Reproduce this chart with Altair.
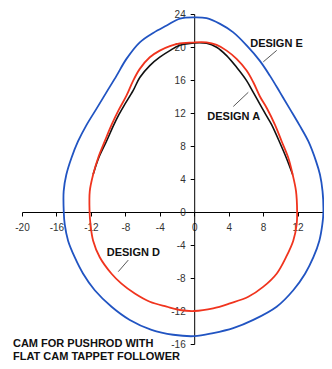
import altair as alt
import pandas as pd

# ---- data ----
x_ticks = [-20, -16, -12, -8, -4, 0, 4, 8, 12]
y_ticks = [-16, -12, -8, -4, 0, 4, 8, 12, 16, 20, 24]
x_domain = [-20, 15.07]   # right end of the axis is cut by the picture edge
y_domain = [-16, 24]

# Design E (outer, blue)
blue_x = [0, 1.43, 3.0, 4.5, 6.08, 7.6, 8.8, 9.96, 11.1, 12.2, 13.26, 14.15, 14.6, 14.9, 15.0,
          14.88, 14.53, 13.84, 12.87, 11.5, 9.57, 6.86, 4.53, 2.2, 0, -2.44, -4.96, -7.48, -9.6,
          -11.55, -12.9, -13.88, -14.65, -15.04, -15.15, -15.16, -14.85, -14.26, -13.5, -12.5,
          -11.36, -10.2, -9.03, -7.87, -6.32, -4.77, -3.2, -1.66, 0]
blue_y = [23.6, 23.5, 22.8, 21.8, 20.2, 18.35, 16.5, 14.5, 12.5, 10.56, 8.55, 6.14, 4.54, 2.53, 0,
          -1.48, -3.48, -5.48, -7.48, -9.48, -11.48, -13.08, -14.08, -14.68, -15.05, -14.88, -14.28,
          -13.08, -11.48, -9.48, -7.48, -5.48, -3.48, -1.48, 0, 2.53, 4.54, 6.55, 8.55, 10.56,
          12.5, 14.5, 16.5, 18.56, 20.57, 21.7, 22.6, 23.45, 23.6]

# Design D (red)
red_x = [0, 1.43, 2.6, 3.76, 4.92, 6.08, 6.86, 7.63, 8.45, 9.38, 10.16, 10.93, 11.43, 11.82, 11.95,
         11.9, 11.5, 10.66, 9.57, 8.0, 6.28, 4.15, 2.2, 0, -1.67, -3.2, -5.15, -6.9, -8.45, -9.6,
         -10.97, -11.74, -12.05, -12.15, -12.13, -11.74, -11.16, -10.4, -9.6, -8.75, -7.87, -7.1,
         -6.32, -5.16, -4.0, -2.83, -1.67, 0]
red_y = [20.57, 20.57, 20.25, 19.56, 18.56, 17.15, 15.73, 14.0, 12.55, 10.56, 8.55, 6.55, 4.54, 2.53, 0,
         -1.48, -3.48, -5.48, -7.48, -9.08, -10.28, -11.08, -11.68, -12.0, -11.88, -11.48, -10.88,
         -9.88, -8.68, -7.48, -5.48, -3.48, -1.48, 0, 2.53, 4.54, 6.55, 8.55, 10.56, 12.4, 14.1,
         15.9, 17.35, 18.76, 19.56, 20.1, 20.45, 20.57]

# Design A (black, visible where it departs from Design D)
black_x = [-11.74, -11.1, -10.2, -9.34, -8.75, -8.15, -7.1, -6.32, -5.16, -4.0, -2.83, -1.67, 0,
           1.43, 2.6, 3.76, 4.92, 6.08, 6.86, 7.9, 8.6, 9.0, 9.88, 10.7, 11.43]
black_y = [4.54, 6.55, 8.55, 10.56, 11.8, 12.9, 14.7, 16.3, 17.75, 18.76, 19.56, 20.2, 20.5,
           20.45, 19.97, 18.96, 17.55, 15.93, 14.5, 12.55, 11.3, 10.56, 8.55, 6.55, 4.54]

label_text = ["DESIGN E", "DESIGN A", "DESIGN D"]
label_x = [6.5, 1.52, -10.16]
label_y = [20.0, 11.18, -5.35]
leader_x = [9.58, 6.28, -7.66]
leader_y = [19.59, 14.51, -5.83]
leader_x2 = [8.02, 4.54, -8.82]
leader_y2 = [18.2, 12.79, -7.23]

caption_text = ["CAM FOR PUSHROD WITH", "FLAT CAM TAPPET FOLLOWER"]
caption_x = [-21.05, -21.05]
caption_y = [-16.4, -17.98]

# ---- chart ----
def curve(xs, ys):
    return pd.DataFrame({"x": xs, "y": ys, "order": list(range(len(xs)))})

FONT = "Liberation Sans"
W, H = 302, 330

xenc = alt.X("x:Q",
             scale=alt.Scale(domain=x_domain, nice=False, zero=False),
             axis=alt.Axis(values=x_ticks, offset=-H * 16 / 40, title=None, grid=False,
                           tickSize=4, labelPadding=6, labelExpr="datum.value + ''",
                           labelOverlap=False, labelFlush=False))
yenc = alt.Y("y:Q",
             scale=alt.Scale(domain=y_domain, nice=False, zero=False),
             axis=alt.Axis(values=y_ticks, offset=-172.2, title=None, grid=False,
                           tickSize=4, labelPadding=5, labelExpr="datum.value + ''",
                           labelOverlap=False, labelFlush=False))

def line(xs, ys, color, width):
    return alt.Chart(curve(xs, ys)).mark_line(
        color=color, strokeWidth=width, interpolate="catmull-rom"
    ).encode(x=xenc, y=yenc, order="order:Q")

black = line(black_x, black_y, "#111111", 1.6)
red = line(red_x, red_y, "#f0341e", 1.8)
blue = line(blue_x, blue_y, "#2154c2", 1.8)

leaders = alt.Chart(pd.DataFrame({"x": leader_x, "y": leader_y, "x2": leader_x2, "y2": leader_y2})).mark_rule(
    color="#444444", strokeWidth=0.9
).encode(x=xenc, y=yenc, x2="x2:Q", y2="y2:Q")

labels = alt.Chart(pd.DataFrame({"x": label_x, "y": label_y, "t": label_text})).mark_text(
    align="left", baseline="alphabetic", font=FONT, fontWeight="bold", fontSize=11, color="#111111"
).encode(x=xenc, y=yenc, text="t:N")

caption = alt.Chart(pd.DataFrame({"x": caption_x, "y": caption_y, "t": caption_text})).mark_text(
    align="left", baseline="alphabetic", font=FONT, fontWeight="bold", fontSize=11, color="#111111"
).encode(x=xenc, y=yenc, text="t:N")

chart = alt.layer(black, red, blue, leaders, labels, caption).properties(
    width=W, height=H,
    autosize=alt.AutoSizeParams(type="none"),
    padding={"left": 14, "top": 6, "right": 0, "bottom": 17},
    background="white",
).configure_view(stroke=None).configure_axis(
    domainColor="#000000", domainWidth=1, tickColor="#000000", tickWidth=1,
    labelColor="#333333", labelFont=FONT, labelFontSize=10,
)

chart.save("out.html", embed_options={"renderer": "svg", "actions": False})
